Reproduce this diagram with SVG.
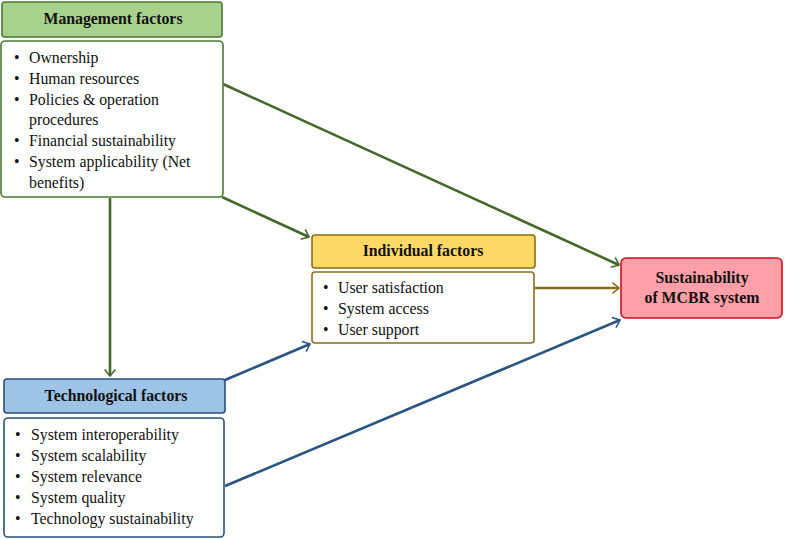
<svg xmlns="http://www.w3.org/2000/svg" width="787" height="539" viewBox="0 0 787 539">
<style>
text{font-family:"Liberation Serif","Times New Roman",serif;fill:#111}
.h{font-weight:bold;font-size:15.8px;text-anchor:middle}
.b{font-size:15.8px}
.g{stroke:#4a7a30;stroke-width:1.6}
.y{stroke:#8a6d1a;stroke-width:1.6}
.bl{stroke:#2a4f7a;stroke-width:1.6}
.cg{stroke:#44682a;stroke-width:2.6;fill:none}
.cy{stroke:#8a6d16;stroke-width:2.6;fill:none}
.cb{stroke:#2a5582;stroke-width:2.6;fill:none}
</style>
<defs>
<marker id="ag" viewBox="0 0 10 10" refX="9" refY="5" markerWidth="6" markerHeight="6" orient="auto" markerUnits="userSpaceOnUse" style="overflow:visible"><path d="M-2,-4 L9,5 L-2,14" fill="none" stroke="#44682a" stroke-width="2.6"/></marker>
<marker id="ay" viewBox="0 0 10 10" refX="9" refY="5" markerWidth="6" markerHeight="6" orient="auto" markerUnits="userSpaceOnUse" style="overflow:visible"><path d="M-2,-4 L9,5 L-2,14" fill="none" stroke="#8a6d16" stroke-width="2.6"/></marker>
<marker id="ab" viewBox="0 0 10 10" refX="9" refY="5" markerWidth="6" markerHeight="6" orient="auto" markerUnits="userSpaceOnUse" style="overflow:visible"><path d="M-2,-4 L9,5 L-2,14" fill="none" stroke="#2a5582" stroke-width="2.6"/></marker>
</defs>
<g id="connectors">
<line class="cg" x1="223" y1="84" x2="619" y2="265" marker-end="url(#ag)"/>
<line class="cg" x1="222" y1="197" x2="309" y2="237" marker-end="url(#ag)"/>
<line class="cg" x1="110" y1="198" x2="110" y2="376" marker-end="url(#ag)"/>
<line class="cy" x1="535" y1="288" x2="619" y2="288" marker-end="url(#ay)"/>
<line class="cb" x1="225" y1="380" x2="310" y2="344" marker-end="url(#ab)"/>
<line class="cb" x1="225" y1="486" x2="620" y2="320" marker-end="url(#ab)"/>
</g>
<g id="management">
<rect class="g" x="2" y="2" width="220" height="35" rx="3" fill="#a9d18e"/>
<text class="h" x="113" y="24">Management factors</text>
<rect class="g" x="1" y="41" width="222" height="156" rx="4" fill="#fff"/>
<text class="b"><tspan x="14" y="63">•</tspan><tspan x="29" y="63">Ownership</tspan><tspan x="14" y="84">•</tspan><tspan x="29" y="84">Human resources</tspan><tspan x="14" y="105">•</tspan><tspan x="29" y="105">Policies &amp; operation</tspan><tspan x="29" y="125">procedures</tspan><tspan x="14" y="146">•</tspan><tspan x="29" y="146">Financial sustainability</tspan><tspan x="14" y="167">•</tspan><tspan x="29" y="167">System applicability (Net</tspan><tspan x="29" y="188">benefits)</tspan></text>
</g>
<g id="individual">
<rect class="y" x="312" y="235" width="223" height="33" rx="3" fill="#ffd966"/>
<text class="h" x="423" y="256">Individual factors</text>
<rect class="y" x="312" y="272" width="222" height="71" rx="3" fill="#fff"/>
<text class="b"><tspan x="323" y="293">•</tspan><tspan x="338" y="293">User satisfaction</tspan><tspan x="323" y="314">•</tspan><tspan x="338" y="314">System access</tspan><tspan x="323" y="335">•</tspan><tspan x="338" y="335">User support</tspan></text>
</g>
<g id="sustainability">
<rect x="621" y="258" width="161" height="60" rx="5" fill="#ffa0a8" stroke="#d0101c" stroke-width="1.6"/>
<text class="h" x="702" y="283">Sustainability</text>
<text class="h" x="702" y="303">of MCBR system</text>
</g>
<g id="technological">
<rect class="bl" x="4" y="379" width="221" height="34" rx="3" fill="#9dc3e6"/>
<text class="h" x="116" y="401">Technological factors</text>
<rect class="bl" x="4" y="418" width="220" height="119" rx="4" fill="#fff"/>
<text class="b"><tspan x="15" y="440">•</tspan><tspan x="31" y="440">System interoperability</tspan><tspan x="15" y="461">•</tspan><tspan x="31" y="461">System scalability</tspan><tspan x="15" y="482">•</tspan><tspan x="31" y="482">System relevance</tspan><tspan x="15" y="503">•</tspan><tspan x="31" y="503">System quality</tspan><tspan x="15" y="524">•</tspan><tspan x="31" y="524">Technology sustainability</tspan></text>
</g>
</svg>
